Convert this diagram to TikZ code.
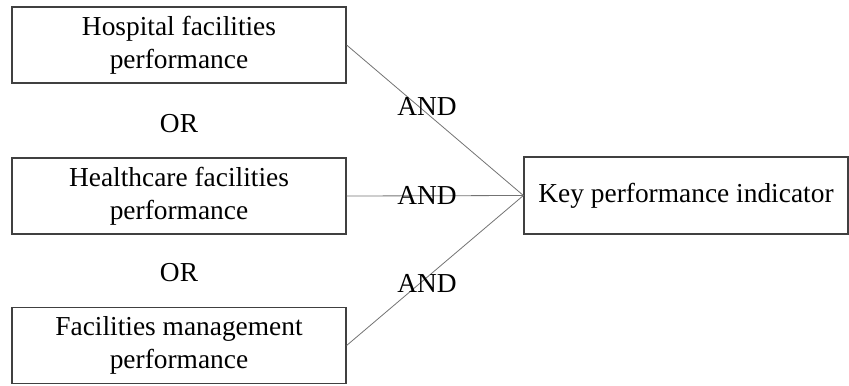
\documentclass[tikz,border=0pt]{standalone}
\usepackage{fontspec}
\setmainfont{Liberation Serif}
\usetikzlibrary{positioning}

\begin{document}
\begin{tikzpicture}[x=0.5pt, y=-0.5pt,
    box/.style={draw=black!75, line width=0.6pt, minimum width=167pt,
        minimum height=38pt, align=center, inner sep=0pt,
        font=\fontsize{13.7}{16.5}\selectfont},
    link/.style={draw=black!55, line width=0.4pt},
    lbl/.style={font=\fontsize{13.7}{16}\selectfont, inner sep=0pt}]
    \useasboundingbox (0,0) rectangle (849,385);
    % --- alternatives (left column) ---
    \node[box] (hosp) at (179,45) {Hospital facilities\\performance};
    \node[box] (health) at (179,196) {Healthcare facilities\\performance};
    \node[box] (fm) at (179,345.5) {Facilities management\\performance};
    \node[lbl] (or1) at (179,124) {OR};
    \node[lbl] (or2) at (179,273) {OR};
    % --- target ---
    \node[box, minimum width=162pt, minimum height=38.5pt] (kpi) at (686,195.5) {Key performance indicator};
    % --- connectors ---
    \draw[link] (hosp.east) -- (kpi.west) node[lbl, pos=0.455, yshift=3.3pt] {AND};
    \draw[link] (health.east) -- (kpi.west) node[lbl, pos=0.455] {AND};
    \draw[link] (fm.east) -- (kpi.west) node[lbl, pos=0.455, yshift=-3pt] {AND};
\end{tikzpicture}
\end{document}
